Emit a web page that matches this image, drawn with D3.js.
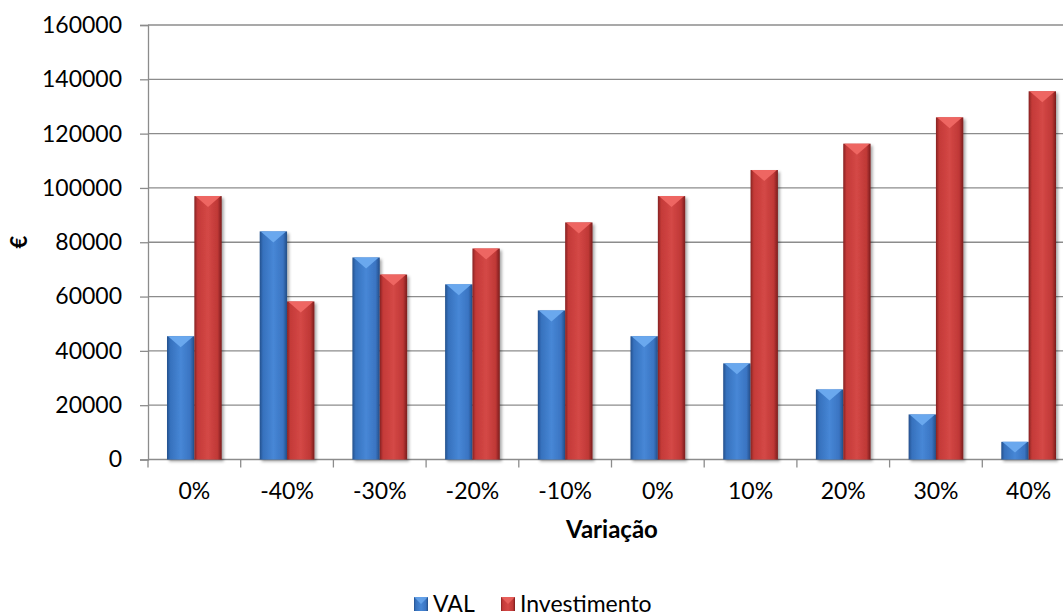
<!DOCTYPE html>
<html>
<head>
<meta charset="utf-8">
<script src="https://cdn.jsdelivr.net/npm/d3@7"></script>
<style>
  body { margin: 0; background: #fff; }
  svg text { font-family: Lato, "Open Sans", sans-serif; fill: #000; }
</style>
</head>
<body>
<svg id="chart"></svg>
<script>
var categories = ["0%", "-40%", "-30%", "-20%", "-10%", "0%", "10%", "20%", "30%", "40%"];
var valValues = [45400, 84000, 74400, 64500, 54900, 45400, 35400, 25800, 16600, 6500];
var investValues = [97000, 58200, 68100, 77700, 87300, 97000, 106600, 116300, 126000, 135600];
var yTicks = [0, 20000, 40000, 60000, 80000, 100000, 120000, 140000, 160000];
var seriesNames = ["VAL", "Investimento"];

var width = 1063,
    height = 616;
var plotLeft = 148, plotRight = 1075, plotTop = 25, plotBottom = 459.5;

var svg = d3.select("#chart")
    .attr("width", width)
    .attr("height", height);

var defs = svg.append("defs");

function addGrad(id, stops) {
    var g = defs.append("linearGradient")
        .attr("id", id)
        .attr("x1", "0%").attr("y1", "0%")
        .attr("x2", "100%").attr("y2", "0%");
    stops.forEach(function (s) {
        g.append("stop").attr("offset", s[0]).attr("stop-color", s[1]);
    });
}
addGrad("blueGrad", [["0%", "#24508c"], ["12%", "#3671bd"], ["50%", "#4787d6"], ["85%", "#3a74c2"], ["100%", "#234d86"]]);
addGrad("redGrad", [["0%", "#862222"], ["12%", "#c43a38"], ["50%", "#d44846"], ["85%", "#bf3836"], ["100%", "#7a1c1c"]]);

var shadow = defs.append("filter").attr("id", "shadow")
    .attr("x", "-20%").attr("y", "-10%").attr("width", "160%").attr("height", "130%");
shadow.append("feDropShadow")
    .attr("dx", 2).attr("dy", 2).attr("stdDeviation", 1.8)
    .attr("flood-color", "#000").attr("flood-opacity", 0.35);

var x = d3.scaleBand()
    .domain(d3.range(categories.length))
    .range([plotLeft, plotRight])
    .padding(0);

var y = d3.scaleLinear()
    .domain([0, 160000])
    .range([plotBottom, plotTop]);

var barW = x.bandwidth() * 0.295;
var offset = (x.bandwidth() - 2 * barW) / 2;

// gridlines
svg.append("g")
    .selectAll("line")
    .data(yTicks.slice(1))
    .enter().append("line")
    .attr("x1", plotLeft).attr("x2", plotRight)
    .attr("y1", function (d) { return y(d); })
    .attr("y2", function (d) { return y(d); })
    .attr("stroke", "#8c8c8c")
    .attr("stroke-width", 1.3);

// y axis
var yAxis = d3.axisLeft(y)
    .tickValues(yTicks)
    .tickSize(8)
    .tickPadding(18)
    .tickFormat(d3.format("d"));

var gy = svg.append("g")
    .attr("transform", "translate(" + plotLeft + ",0)")
    .call(yAxis);
gy.select(".domain").attr("stroke", "#8c8c8c").attr("stroke-width", 1.3);
gy.selectAll(".tick line").attr("stroke", "#8c8c8c").attr("stroke-width", 1.3);
gy.selectAll(".tick text").style("font-size", "23px").attr("fill", "#000");

// x axis line + ticks
var gx = svg.append("g").attr("transform", "translate(0," + plotBottom + ")");
gx.append("line")
    .attr("x1", plotLeft).attr("x2", plotRight)
    .attr("stroke", "#8c8c8c").attr("stroke-width", 1.3);
gx.selectAll(".xt")
    .data(d3.range(categories.length + 1))
    .enter().append("line")
    .attr("x1", function (i) { return plotLeft + i * x.bandwidth(); })
    .attr("x2", function (i) { return plotLeft + i * x.bandwidth(); })
    .attr("y1", 0).attr("y2", 8)
    .attr("stroke", "#8c8c8c").attr("stroke-width", 1.3);
gx.selectAll(".xl")
    .data(categories)
    .enter().append("text")
    .attr("x", function (d, i) { return x(i) + x.bandwidth() / 2; })
    .attr("y", 39)
    .style("text-anchor", "middle")
    .style("font-size", "23px")
    .text(function (d) { return d; });

// bars
function drawBars(values, k, grad, light) {
    var g = svg.append("g");
    var bar = g.selectAll("g")
        .data(values)
        .enter().append("g")
        .attr("transform", function (d, i) {
            return "translate(" + (x(i) + offset + k * barW) + "," + y(d) + ")";
        });
    bar.append("rect")
        .attr("width", barW)
        .attr("height", function (d) { return plotBottom - y(d); })
        .attr("fill", "url(#" + grad + ")")
        .attr("filter", "url(#shadow)");
    bar.append("path")
        .attr("d", function (d) {
            var dep = Math.min(11, (plotBottom - y(d)) * 0.6);
            return "M1,0L" + (barW - 1) + ",0L" + (barW / 2) + "," + dep + "Z";
        })
        .attr("fill", light);
}
drawBars(valValues, 0, "blueGrad", "#6aa8ee");
drawBars(investValues, 1, "redGrad", "#ee6662");

// axis titles
svg.append("text")
    .attr("x", 612)
    .attr("y", 538)
    .style("text-anchor", "middle")
    .style("font-size", "24px")
    .style("font-weight", "bold")
    .text("Variação");

svg.append("text")
    .attr("transform", "translate(27,242) rotate(-90)")
    .style("text-anchor", "middle")
    .style("font-size", "22px")
    .style("font-weight", "bold")
    .text("€");

// legend
var legend = svg.append("g").attr("transform", "translate(414,597)");
var legX = [0, 87];
var legGrad = ["blueGrad", "redGrad"];
var legItem = legend.selectAll("g")
    .data(seriesNames)
    .enter().append("g")
    .attr("transform", function (d, i) { return "translate(" + legX[i] + ",0)"; });
legItem.append("rect")
    .attr("width", 14).attr("height", 14)
    .attr("fill", function (d, i) { return "url(#" + legGrad[i] + ")"; });
legItem.append("path")
    .attr("d", "M0,0L14,0L7,7Z")
    .attr("fill", function (d, i) { return i == 0 ? "#6aa8ee" : "#ee6662"; })
    .attr("opacity", 0.8);
legItem.append("text")
    .attr("x", 19)
    .attr("y", 15)
    .style("font-size", "23px")
    .text(function (d) { return d; });
</script>
</body>
</html>
